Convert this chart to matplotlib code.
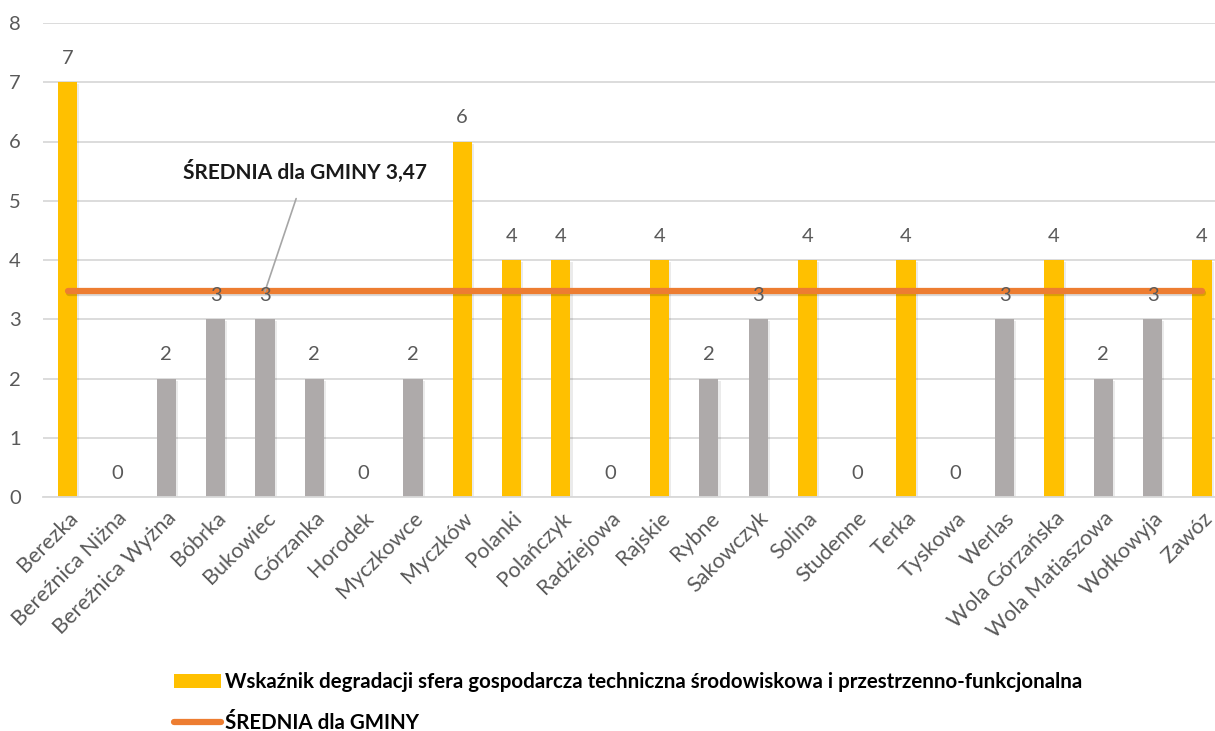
import numpy as np
import matplotlib.pyplot as plt
import matplotlib.patheffects as pe
from matplotlib.lines import Line2D
from matplotlib.patches import Patch

plt.rcParams['font.family'] = ['Lato', 'DejaVu Sans']

categories = ['Berezka', 'Bereźnica Niżna', 'Bereźnica Wyżna', 'Bóbrka', 'Bukowiec',
              'Górzanka', 'Horodek', 'Myczkowce', 'Myczków', 'Polanki', 'Polańczyk',
              'Radziejowa', 'Rajskie', 'Rybne', 'Sakowczyk', 'Solina', 'Studenne',
              'Terka', 'Tyskowa', 'Werlas', 'Wola Górzańska', 'Wola Matiaszowa',
              'Wołkowyja', 'Zawóz']
values = [7, 0, 2, 3, 3, 2, 0, 2, 6, 4, 4, 0, 4, 2, 3, 4, 0, 4, 0, 3, 4, 2, 3, 4]
mean_value = 3.47
yticks = [0, 1, 2, 3, 4, 5, 6, 7, 8]

gold = '#FFC000'
grey = '#AEAAAA'
orange = '#ED7D31'
txt = '#595959'

x = np.arange(len(categories))
colors = [gold if v > mean_value else grey for v in values]

fig = plt.figure(figsize=(12.15, 7.31), dpi=100)
ax = fig.add_axes([43 / 1215, 1 - 497 / 731, 1 - 43 / 1215, (497 - 23) / 731])

shadow = [pe.withSimplePatchShadow(offset=(1.5, -1.5), shadow_rgbFace='black', alpha=0.08)]
bars = ax.bar(x, values, width=0.39, color=colors, zorder=2)
for b in bars:
    b.set_path_effects(shadow)
lbls = ax.bar_label(bars, padding=11, fontsize=14.5, color=txt)
for t in lbls:
    t.set_zorder(5)

line, = ax.plot(x, [mean_value] * len(x), color=orange, lw=4.5, solid_capstyle='round', zorder=3,
                path_effects=[pe.SimpleLineShadow(offset=(1, -1.5), alpha=0.15), pe.Normal()])

ax.annotate('ŚREDNIA dla GMINY 3,47', xy=(4, mean_value), xytext=(4.82, 5.5),
            ha='center', va='center', fontsize=15, fontweight='bold', color='#1a1a1a',
            arrowprops=dict(arrowstyle='-', color='#A6A6A6', lw=1.2, shrinkA=10, shrinkB=0),
            zorder=4)

ax.set_xlim(-0.5, 23 + (1215 - 1202) / 49.33)
ax.set_ylim(0, 8)
ax.set_yticks(yticks)
ax.grid(axis='y', color='#D9D9D9', lw=1.3, zorder=0)
ax.set_axisbelow(True)
for s in ['top', 'right', 'left']:
    ax.spines[s].set_visible(False)
ax.spines['bottom'].set_color('#D9D9D9')
ax.spines['bottom'].set_linewidth(1.3)
ax.tick_params(axis='both', length=0, labelsize=14.5, colors=txt)
ax.tick_params(axis='y', pad=16)
ax.set_xticks(x)
ax.set_xticklabels(categories, rotation=45, ha='right', va='top', rotation_mode='anchor', fontsize=15.5)
ax.tick_params(axis='x', pad=8)

handles = [Patch(facecolor=gold, edgecolor='none'),
           Line2D([0], [0], color=orange, lw=4.5, solid_capstyle='round')]
labels = ['Wskaźnik degradacji sfera gospodarcza techniczna środowiskowa i przestrzenno-funkcjonalna',
          'ŚREDNIA dla GMINY']
leg = fig.legend(handles, labels, loc='upper left', bbox_to_anchor=(155 / 1215, 1 - 654 / 731),
                 frameon=False, handlelength=2.3, handleheight=0.65, handletextpad=0.2,
                 labelspacing=1.0, prop={'size': 14.8, 'weight': 'bold'})

fig.savefig('out.png', dpi=100)
